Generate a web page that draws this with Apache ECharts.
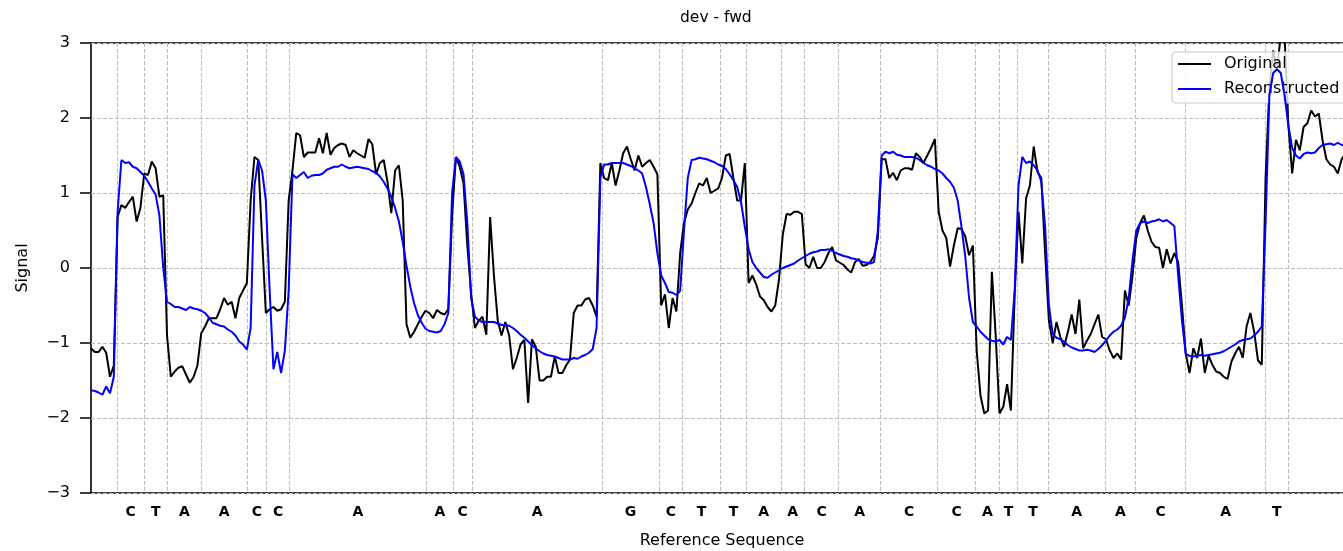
<!DOCTYPE html>
<html>
<head>
<meta charset="utf-8">
<script src="https://cdn.jsdelivr.net/npm/echarts@6/dist/echarts.min.js"></script>
<style>
  html, body { margin: 0; padding: 0; background: #ffffff; }
  #chart { width: 1343px; height: 551px; }
</style>
</head>
<body>
<div id="chart"></div>
<script>
// Reference bases and the sample index where each base starts
const bases = ['C','T','A','A','C','C','A','A','C','A','G','C','T','T','A','A','C','A','C','C','A','T','T','A','A','C','A','T'];
const baseStarts = [6.9, 14.0, 20.1, 29.0, 41.1, 46.2, 52.2, 88.3, 95.3, 100.3, 134.4, 149.5, 155.6, 165.6,
  172.4, 181.5, 187.7, 196.7, 207.7, 222.7, 232.7, 238.9, 243.8, 251.8, 266.8, 274.8, 288.0, 309.0, 314.9];

// Normalised signal, one value per sample
const original = [
  -1.07,-1.12,-1.12,-1.05,-1.13,-1.45,-1.3,0.68,0.84,0.8,
  0.88,0.95,0.62,0.8,1.26,1.24,1.42,1.33,0.95,0.97,
  -0.9,-1.45,-1.38,-1.33,-1.31,-1.42,-1.53,-1.45,-1.3,-0.87,
  -0.78,-0.67,-0.67,-0.67,-0.55,-0.4,-0.49,-0.45,-0.67,-0.4,
  -0.3,-0.2,0.9,1.48,1.44,0.4,-0.6,-0.55,-0.52,-0.57,
  -0.55,-0.45,0.9,1.3,1.8,1.77,1.48,1.54,1.54,1.54,
  1.73,1.53,1.8,1.51,1.6,1.64,1.66,1.64,1.48,1.57,
  1.53,1.5,1.47,1.72,1.65,1.25,1.4,1.44,1.15,0.73,
  1.3,1.37,0.9,-0.75,-0.93,-0.85,-0.75,-0.65,-0.57,-0.6,
  -0.67,-0.56,-0.6,-0.62,-0.55,0.7,1.48,1.35,1.13,0.3,
  -0.34,-0.8,-0.7,-0.65,-0.89,0.68,-0.1,-0.7,-0.9,-0.72,
  -0.9,-1.35,-1.2,-1.02,-0.96,-1.8,-0.95,-1.05,-1.5,-1.5,
  -1.45,-1.45,-1.18,-1.4,-1.4,-1.3,-1.22,-0.6,-0.5,-0.5,
  -0.42,-0.4,-0.5,-0.65,1.4,1.2,1.17,1.4,1.1,1.3,
  1.53,1.62,1.45,1.3,1.5,1.35,1.4,1.44,1.35,1.25,
  -0.5,-0.35,-0.8,-0.4,-0.58,0.2,0.6,0.78,0.86,1.0,
  1.13,1.1,1.2,1.0,1.03,1.06,1.2,1.5,1.52,1.2,
  0.9,0.9,1.4,-0.2,-0.1,-0.22,-0.38,-0.43,-0.52,-0.58,
  -0.5,-0.15,0.45,0.72,0.71,0.75,0.75,0.72,0.05,0.0,
  0.15,0.0,0.0,0.08,0.2,0.28,0.1,0.07,0.04,-0.02,
  -0.06,0.08,0.12,0.03,0.04,0.08,0.16,0.4,1.45,1.45,
  1.2,1.27,1.17,1.3,1.33,1.33,1.31,1.53,1.48,1.4,
  1.5,1.6,1.72,0.75,0.5,0.4,0.02,0.3,0.53,0.52,
  0.42,0.17,0.3,-1.1,-1.7,-1.94,-1.9,-0.05,-0.9,-1.94,
  -1.85,-1.55,-1.9,-0.35,0.75,0.06,0.93,1.1,1.62,1.28,
  1.2,0.2,-0.7,-1.0,-0.72,-0.92,-1.05,-0.85,-0.62,-0.88,
  -0.42,-1.07,-0.97,-0.88,-0.75,-0.62,-0.92,-0.95,-1.1,-1.2,
  -1.14,-1.22,-0.3,-0.5,-0.1,0.4,0.6,0.7,0.5,0.35,
  0.28,0.27,0.0,0.25,0.06,0.2,0.08,-0.5,-1.14,-1.4,
  -1.07,-1.2,-0.94,-1.4,-1.17,-1.29,-1.38,-1.4,-1.45,-1.48,
  -1.25,-1.14,-1.05,-1.2,-0.78,-0.6,-0.85,-1.23,-1.29,1.2,
  2.4,2.9,2.65,3.1,3.1,1.9,1.26,1.71,1.57,1.88,
  1.93,2.1,2.02,2.06,1.7,1.45,1.38,1.35,1.26,1.45,
  1.52,1.5
];

const reconstructed = [
  -1.63,-1.64,-1.66,-1.69,-1.58,-1.67,-1.45,0.75,1.44,1.4,
  1.41,1.35,1.33,1.28,1.23,1.15,1.06,0.98,0.7,0.0,
  -0.45,-0.48,-0.52,-0.52,-0.54,-0.56,-0.52,-0.54,-0.55,-0.57,
  -0.6,-0.66,-0.73,-0.75,-0.77,-0.78,-0.82,-0.85,-0.9,-0.98,
  -1.02,-1.09,-0.8,1.1,1.44,1.3,0.9,-0.3,-1.35,-1.12,
  -1.4,-1.1,-0.3,1.25,1.2,1.24,1.28,1.2,1.23,1.24,
  1.24,1.26,1.31,1.33,1.35,1.35,1.38,1.35,1.33,1.34,
  1.35,1.34,1.33,1.32,1.29,1.27,1.22,1.15,1.06,0.95,
  0.8,0.62,0.35,0.03,-0.25,-0.47,-0.63,-0.73,-0.81,-0.84,
  -0.85,-0.86,-0.84,-0.75,-0.6,1.0,1.48,1.42,1.25,0.6,
  -0.4,-0.65,-0.7,-0.72,-0.72,-0.72,-0.72,-0.74,-0.76,-0.76,
  -0.77,-0.8,-0.84,-0.89,-0.93,-0.98,-1.03,-1.07,-1.11,-1.14,
  -1.16,-1.17,-1.18,-1.2,-1.22,-1.22,-1.22,-1.2,-1.21,-1.18,
  -1.16,-1.13,-1.08,-0.8,1.2,1.38,1.38,1.4,1.4,1.4,
  1.4,1.38,1.36,1.33,1.3,1.26,1.08,0.85,0.6,0.2,
  -0.1,-0.2,-0.32,-0.33,-0.36,-0.3,0.5,1.2,1.44,1.45,
  1.47,1.46,1.45,1.43,1.41,1.38,1.36,1.32,1.25,1.17,
  1.08,0.88,0.55,0.25,0.08,0.0,-0.06,-0.12,-0.13,-0.09,
  -0.06,-0.03,0.0,0.02,0.04,0.06,0.1,0.13,0.16,0.19,
  0.21,0.22,0.24,0.24,0.25,0.23,0.2,0.18,0.16,0.15,
  0.13,0.12,0.1,0.08,0.07,0.06,0.08,0.5,1.5,1.55,
  1.53,1.55,1.51,1.5,1.48,1.48,1.48,1.47,1.44,1.4,
  1.37,1.35,1.32,1.3,1.26,1.2,1.15,1.07,0.9,0.55,
  0.15,-0.4,-0.72,-0.78,-0.85,-0.9,-0.95,-0.97,-0.98,-0.96,
  -1.02,-0.92,-0.96,-0.3,1.1,1.48,1.4,1.42,1.37,1.3,
  1.15,0.55,-0.5,-0.88,-0.93,-0.95,-0.98,-1.03,-1.06,-1.08,
  -1.1,-1.1,-1.09,-1.1,-1.12,-1.08,-1.03,-0.97,-0.9,-0.85,
  -0.82,-0.77,-0.66,-0.4,0.1,0.5,0.6,0.62,0.6,0.62,
  0.63,0.65,0.62,0.64,0.6,0.56,-0.1,-0.7,-1.15,-1.17,
  -1.18,-1.17,-1.16,-1.17,-1.16,-1.15,-1.14,-1.13,-1.11,-1.08,
  -1.05,-1.02,-0.98,-0.96,-0.95,-0.94,-0.9,-0.85,-0.78,0.6,
  2.3,2.6,2.65,2.6,2.3,1.9,1.6,1.5,1.46,1.52,
  1.54,1.53,1.54,1.6,1.64,1.65,1.66,1.64,1.67,1.64,
  1.65,1.65
];

const yTicks = [-3, -2, -1, 0, 1, 2, 3];
const sampleRange = [0, 332];

// Label each base in the middle of its segment
const baseCenters = bases.map((b, i) => (baseStarts[i] + baseStarts[i + 1]) / 2);
function baseAt(value) {
  let best = 0, bestD = Infinity;
  baseCenters.forEach((c, i) => { const d = Math.abs(c - value); if (d < bestD) { bestD = d; best = i; } });
  return bestD < 0.5 ? bases[best] : '';
}

const FONT = 'DejaVu Sans';
const chart = echarts.init(document.getElementById('chart'), null, { renderer: 'canvas' });

chart.setOption({
  animation: false,
  backgroundColor: '#ffffff',
  title: {
    text: 'dev - fwd',
    left: 675,
    top: 5,
    textStyle: { fontFamily: FONT, fontSize: 15.5, fontWeight: 'normal', color: '#000' }
  },
  // the axes box runs a little past the right edge of the page
  grid: {
    left: 91, top: 43, width: 1262, height: 450,
    outerBoundsMode: 'none',
    containLabel: false,
    show: true, borderColor: '#000', borderWidth: 1.6, backgroundColor: 'transparent'
  },
  legend: {
    data: ['Original', 'Reconstructed'],
    orient: 'vertical',
    left: 1172, top: 52,
    icon: 'rect',
    itemWidth: 33, itemHeight: 2, itemGap: 7,
    padding: [3, 12, 5, 6],
    borderColor: '#cccccc', borderWidth: 1.2, borderRadius: 4,
    backgroundColor: 'rgba(255,255,255,0.8)',
    textStyle: { fontFamily: FONT, fontSize: 16, color: '#000', lineHeight: 18, padding: [0, 0, 0, 8] }
  },
  xAxis: {
    type: 'value',
    min: sampleRange[0], max: sampleRange[1],
    name: 'Reference Sequence',
    nameLocation: 'middle',
    nameGap: 40,
    nameTextStyle: { fontFamily: FONT, fontSize: 16, color: '#000' },
    axisLine: { show: false },
    axisTick: { show: false, customValues: baseStarts },
    splitLine: { show: true, lineStyle: { color: '#bdbdbd', width: 1, type: [4, 2] } },
    axisLabel: {
      customValues: baseCenters,
      formatter: v => baseAt(v),
      margin: 12,
      fontFamily: FONT, fontSize: 14, fontWeight: 'bold', color: '#000'
    }
  },
  yAxis: {
    type: 'value',
    min: yTicks[0], max: yTicks[yTicks.length - 1], interval: 1,
    name: 'Signal',
    nameLocation: 'middle',
    nameGap: 60,
    nameTextStyle: { fontFamily: FONT, fontSize: 16, color: '#000' },
    axisLine: { show: false },
    axisTick: { show: true, length: 11, lineStyle: { color: '#000', width: 1.5 } },
    splitLine: { show: true, lineStyle: { color: '#bdbdbd', width: 1, type: [4, 2] } },
    axisLabel: {
      margin: 21,
      fontFamily: FONT, fontSize: 16, color: '#000',
      formatter: v => (v < 0 ? '\u2212' + Math.abs(v) : String(v))
    }
  },
  series: [
    {
      name: 'Original',
      type: 'line',
      data: original.map((v, i) => [i, v]),
      symbol: 'none',
      clip: true,
      lineStyle: { color: '#000000', width: 2 },
      itemStyle: { color: '#000000' },
      z: 3
    },
    {
      name: 'Reconstructed',
      type: 'line',
      data: reconstructed.map((v, i) => [i, v]),
      symbol: 'none',
      clip: true,
      lineStyle: { color: '#0000ff', width: 2 },
      itemStyle: { color: '#0000ff' },
      z: 4
    }
  ]
});
</script>
</body>
</html>
